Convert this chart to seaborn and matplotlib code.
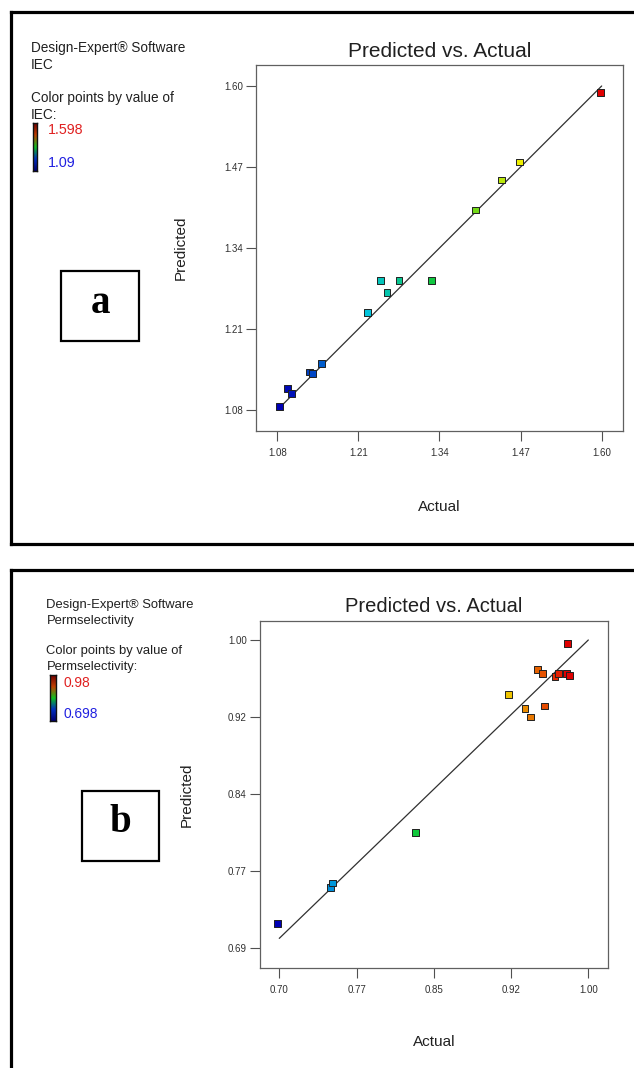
import numpy as np
import pandas as pd
import matplotlib
matplotlib.use('Agg')
import matplotlib.pyplot as plt
import seaborn as sns
from matplotlib.colors import LinearSegmentedColormap
from matplotlib.patches import Rectangle
from matplotlib.lines import Line2D

# ---------------- data ----------------
# Panel a: IEC
iec_actual = [1.083, 1.096, 1.103, 1.132, 1.136, 1.151, 1.224, 1.245, 1.256,
              1.275, 1.327, 1.398, 1.439, 1.468, 1.598]
iec_predicted = [1.086, 1.115, 1.106, 1.141, 1.138, 1.154, 1.236, 1.288, 1.268,
                 1.288, 1.288, 1.401, 1.449, 1.478, 1.589]
iec_ticks = [1.08, 1.21, 1.34, 1.47, 1.60]
iec_tick_labels = ['1.08', '1.21', '1.34', '1.47', '1.60']
iec_color_range = [1.09, 1.598]
iec_color_labels = ['1.598', '1.09']

# Panel b: Permselectivity
perm_actual = [0.698, 0.7495, 0.752, 0.832, 0.9227, 0.9385, 0.9437, 0.9505,
               0.9557, 0.9577, 0.9677, 0.9709, 0.979, 0.980, 0.982]
perm_predicted = [0.7148, 0.751, 0.7557, 0.8063, 0.945, 0.9313, 0.9226, 0.9705,
                  0.9665, 0.9336, 0.9631, 0.9665, 0.9665, 0.9966, 0.9645]
perm_xticks = [0.70, 0.775, 0.85, 0.925, 1.00]
perm_xtick_labels = ['0.70', '0.77', '0.85', '0.92', '1.00']
perm_yticks = [0.69, 0.7675, 0.845, 0.9225, 1.00]
perm_ytick_labels = ['0.69', '0.77', '0.84', '0.92', '1.00']
perm_color_range = [0.698, 0.98]
perm_color_labels = ['0.98', '0.698']

# ---------------- style ----------------
sns.set_style('white')
plt.rcParams['font.family'] = ['Liberation Sans', 'DejaVu Sans']

W, H = 634, 1068
fig = plt.figure(figsize=(W / 100, H / 100), dpi=100)

cmap = LinearSegmentedColormap.from_list(
    'de', ['#0000b4', '#00c4e6', '#12c828', '#f2f000', '#e00000'])


def fx(x):
    return x / W


def fy(y):
    return 1 - y / H


def make_axes(l, t, r, b):
    return fig.add_axes([fx(l), fy(b), (r - l) / W, (b - t) / H])


def draw_panel(ax, actual, predicted, crange, xticks, xlabels, yticks, ylabels,
               xlim, ylim, title_size):
    df = pd.DataFrame({'Actual': actual, 'Predicted': predicted})
    ref = pd.DataFrame({'x': [xticks[0], xticks[-1]], 'y': [xticks[0], xticks[-1]]})
    sns.lineplot(data=ref, x='x', y='y', ax=ax, color='#303030', lw=0.9)
    sns.scatterplot(data=df, x='Actual', y='Predicted', hue='Actual',
                    palette=cmap, hue_norm=tuple(crange), marker='s', s=24,
                    edgecolor='#202020', linewidth=0.7, legend=False, ax=ax,
                    zorder=3)
    ax.set_xlim(*xlim)
    ax.set_ylim(*ylim)
    ax.set_xticks(xticks)
    ax.set_xticklabels(xlabels)
    ax.set_yticks(yticks)
    ax.set_yticklabels(ylabels)
    for s in ax.spines.values():
        s.set_color('#606060')
        s.set_linewidth(0.9)
    ax.tick_params(axis='both', which='major', direction='out', length=7.5,
                   width=0.8, color='#505050', labelsize=7, labelcolor='#303030',
                   bottom=True, left=True, top=False, right=False)
    ax.tick_params(axis='x', pad=4.5)
    ax.tick_params(axis='y', pad=2)
    ax.set_xlabel('Actual', fontsize=11, color='#202020')
    ax.set_ylabel('Predicted', fontsize=11, color='#202020')
    ax.set_title('Predicted vs. Actual', fontsize=title_size, color='#202020',
                 pad=6)


# ---------------- panel a ----------------
ax1 = make_axes(256, 65, 622.7, 431)
draw_panel(ax1, iec_actual, iec_predicted, iec_color_range, iec_ticks,
           iec_tick_labels, iec_ticks, iec_tick_labels,
           (1.0459, 1.6337), (1.0463, 1.6337), 15)
ax1.xaxis.set_label_coords(0.5, -0.188)
ax1.yaxis.set_label_coords(-0.185, 0.5)

# ---------------- panel b ----------------
ax2 = make_axes(260, 620.7, 607.7, 968)
draw_panel(ax2, perm_actual, perm_predicted, perm_color_range, perm_xticks,
           perm_xtick_labels, perm_yticks, perm_ytick_labels,
           (0.6813, 1.0188), (0.6702, 1.0194), 14.5)
ax2.xaxis.set_label_coords(0.5, -0.192)
ax2.yaxis.set_label_coords(-0.19, 0.5)

# ---------------- legends (Design-Expert info) ----------------
def legend_block(x0, lines_y, texts, fs, bar_box, clabels, clab_x, clab_y):
    for t, y in zip(texts, lines_y):
        fig.text(fx(x0), fy(y), t, fontsize=fs, color='#202020',
                 ha='left', va='center')
    l, t, r, b = bar_box
    cax = make_axes(l, t, r, b)
    grad = np.linspace(1, 0, 128).reshape(-1, 1)
    cax.imshow(grad, aspect='auto', cmap=LinearSegmentedColormap.from_list(
        'bar', ['#000070', '#0030c0', '#10c020', '#c04000', '#700000']))
    cax.set_xticks([])
    cax.set_yticks([])
    for s in cax.spines.values():
        s.set_color('#101010')
        s.set_linewidth(1.0)
    fig.text(fx(clab_x), fy(clab_y[0]), clabels[0], fontsize=fs + 0.5,
             color='#e02020', ha='left', va='center')
    fig.text(fx(clab_x), fy(clab_y[1]), clabels[1], fontsize=fs + 0.5,
             color='#2020e0', ha='left', va='center')


legend_block(31, [48, 65, 98, 115],
             ['Design-Expert® Software', 'IEC', 'Color points by value of', 'IEC:'],
             9.8, (32.7, 122.7, 37.3, 170.7), iec_color_labels, 48, (130, 163))
legend_block(46.5, [605, 621, 651, 667],
             ['Design-Expert® Software', 'Permselectivity',
              'Color points by value of', 'Permselectivity:'],
             9.4, (50, 675, 55.5, 721), perm_color_labels, 63, (683, 714))

# ---------------- labelled boxes ----------------
for (l, t, r, b), letter, ty in [((61, 270.7, 139.3, 340.7), 'a', 303),
                                 ((81.7, 791, 159.3, 861), 'b', 822)]:
    fig.patches.append(Rectangle((fx(l), fy(b)), (r - l) / W, (b - t) / H,
                                 transform=fig.transFigure, fill=False,
                                 edgecolor='black', linewidth=1.6))
    fig.text(fx((l + r) / 2), fy(ty), letter, fontsize=28, fontweight='bold',
             family=['Liberation Serif', 'DejaVu Serif'], ha='center',
             va='center', color='black')

# ---------------- outer panel borders ----------------
lw_border = 2.3
for (x1, y1, x2, y2) in [(11, 12, 11, 544), (11, 12, 640, 12), (11, 544, 640, 544),
                         (11, 570, 11, 1075), (11, 570, 640, 570)]:
    fig.lines.append(Line2D([fx(x1), fx(x2)], [fy(y1), fy(y2)],
                            transform=fig.transFigure, color='black',
                            linewidth=lw_border, solid_capstyle='projecting'))

fig.savefig('out.png', dpi=100, facecolor='white')
